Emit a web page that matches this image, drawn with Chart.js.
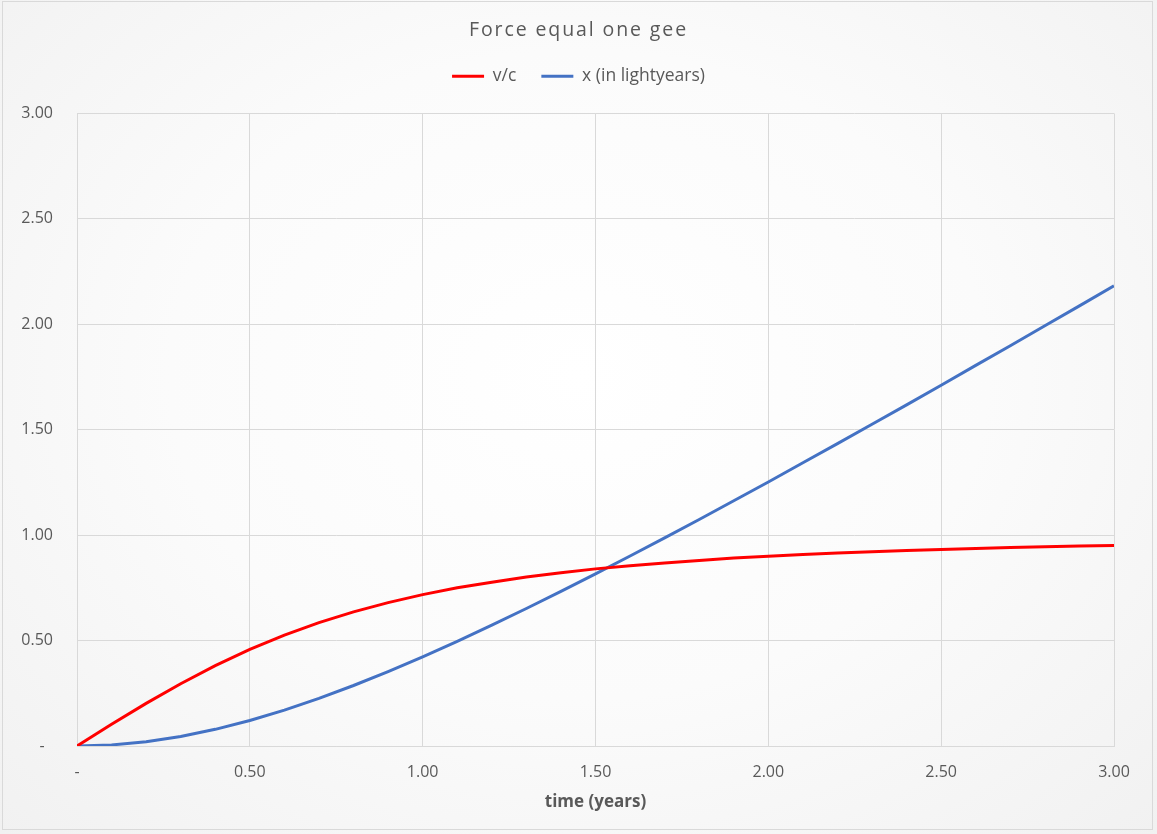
<!DOCTYPE html>
<html><head><meta charset="utf-8">
<script src="https://cdn.jsdelivr.net/npm/chart.js@4/dist/chart.umd.min.js"></script>
<style>
html,body{margin:0;padding:0;}
body{width:1157px;height:834px;overflow:hidden;background:radial-gradient(ellipse at 50% 45%, #ffffff 0%, #fbfbfb 50%, #f1f1f1 100%);}
#frame{position:absolute;left:2px;top:1px;width:1151px;height:829px;border:1px solid #d9d9d9;box-sizing:border-box;}
#wrap{position:absolute;left:0;top:0;width:1157px;height:834px;}
</style></head>
<body>
<div id="frame"></div>
<div id="wrap"><canvas id="c" width="1157" height="834"></canvas></div>
<script>
const timeYears = [0,0.1,0.2,0.3,0.4,0.5,0.6,0.7,0.8,0.9,1.0,1.1,1.2,1.3,1.4,1.5,1.6,1.7,1.8,1.9,2.0,2.1,2.2,2.3,2.4,2.5,2.6,2.7,2.8,2.9,3.0];
const vOverC = [0,0.103,0.202,0.295,0.381,0.458,0.526,0.585,0.636,0.680,0.718,0.750,0.777,0.801,0.822,0.840,0.855,0.868,0.880,0.891,0.900,0.908,0.915,0.921,0.927,0.932,0.937,0.941,0.945,0.948,0.951];
const xLightyears = [0,0.005,0.020,0.045,0.079,0.121,0.170,0.226,0.287,0.353,0.423,0.496,0.573,0.652,0.733,0.816,0.901,0.987,1.074,1.163,1.252,1.343,1.434,1.526,1.618,1.711,1.805,1.898,1.993,2.087,2.182];
const yTicks = [0,0.5,1.0,1.5,2.0,2.5,3.0];
const seriesNames = ['v/c','x (in lightyears)'];
const titleText = 'Force equal one gee';
const xTitle = 'time (years)';

const LEGEND_H = 71;
const CENTER_SHIFT = 21.5;

const spacingPlugin = {
  id:'spacing',
  afterInit(chart){
    const tb = chart.titleBlock;
    if(tb){
      const orig = tb.draw.bind(tb);
      tb.draw = function(){
        const ctx = chart.ctx;
        ctx.save();
        ctx.translate(CENTER_SHIFT, 0);
        ctx.letterSpacing = '1.9px';
        orig();
        ctx.restore();
        ctx.letterSpacing = '0px';
      };
    }
    const lg = chart.legend;
    if(lg){
      const ofit = lg.fit.bind(lg);
      lg.fit = function(){ ofit(); this.height = LEGEND_H; this.bottom = this.top + LEGEND_H; };
      const odraw = lg.draw.bind(lg);
      lg.draw = function(){ const ctx = chart.ctx; ctx.save(); ctx.translate(CENTER_SHIFT, 0); odraw(); ctx.restore(); };
    }
  }
};

const fmt = v => v === 0 ? '-' : v.toFixed(2);

new Chart(document.getElementById('c'), {
  type:'line',
  data:{
    datasets:[
      {label:seriesNames[0], data:timeYears.map((t,i)=>({x:t,y:vOverC[i]})), borderColor:'#ff0000', backgroundColor:'#ff0000', borderWidth:3, pointRadius:0, tension:0},
      {label:seriesNames[1], data:timeYears.map((t,i)=>({x:t,y:xLightyears[i]})), borderColor:'#4472c4', backgroundColor:'#4472c4', borderWidth:3, pointRadius:0, tension:0}
    ]
  },
  options:{
    responsive:false,
    animation:false,
    layout:{padding:{left:0,right:43,top:0,bottom:12}},
    plugins:{
      title:{display:true,text:titleText,color:'#595959',font:{family:'Open Sans',size:19.5,weight:'normal'},padding:{top:19,bottom:0}},
      legend:{display:true,labels:{color:'#595959',font:{family:'Open Sans',size:17.5},boxWidth:32,boxHeight:3,padding:25,
        generateLabels(chart){
          const items = Chart.defaults.plugins.legend.labels.generateLabels(chart);
          items.forEach(it=>{it.lineWidth=0;});
          return items;
        }}},
      tooltip:{enabled:false}
    },
    scales:{
      x:{type:'linear',min:0,max:3,
        afterFit(s){s.height = 76;},
        ticks:{stepSize:0.5,color:'#595959',font:{family:'Open Sans',size:16},padding:17,callback:v=>fmt(v),maxRotation:0},
        grid:{color:'#d9d9d9',lineWidth:1,drawTicks:false},
        border:{color:'#d9d9d9'},
        title:{display:true,text:xTitle,color:'#595959',font:{family:'Open Sans',size:17,weight:'bold'},padding:{top:0,bottom:10}}
      },
      y:{type:'linear',min:0,max:3,
        afterBuildTicks(s){s.ticks = yTicks.map(v=>({value:v}));},
        afterFit(s){s.width = 77;},
        ticks:{color:'#595959',font:{family:'Open Sans',size:16},padding:24,callback:v=>v===0?'-  ':v.toFixed(2)},
        grid:{color:'#d9d9d9',lineWidth:1,drawTicks:false},
        border:{display:false}
      }
    }
  },
  plugins:[spacingPlugin]
});
</script>
</body></html>
